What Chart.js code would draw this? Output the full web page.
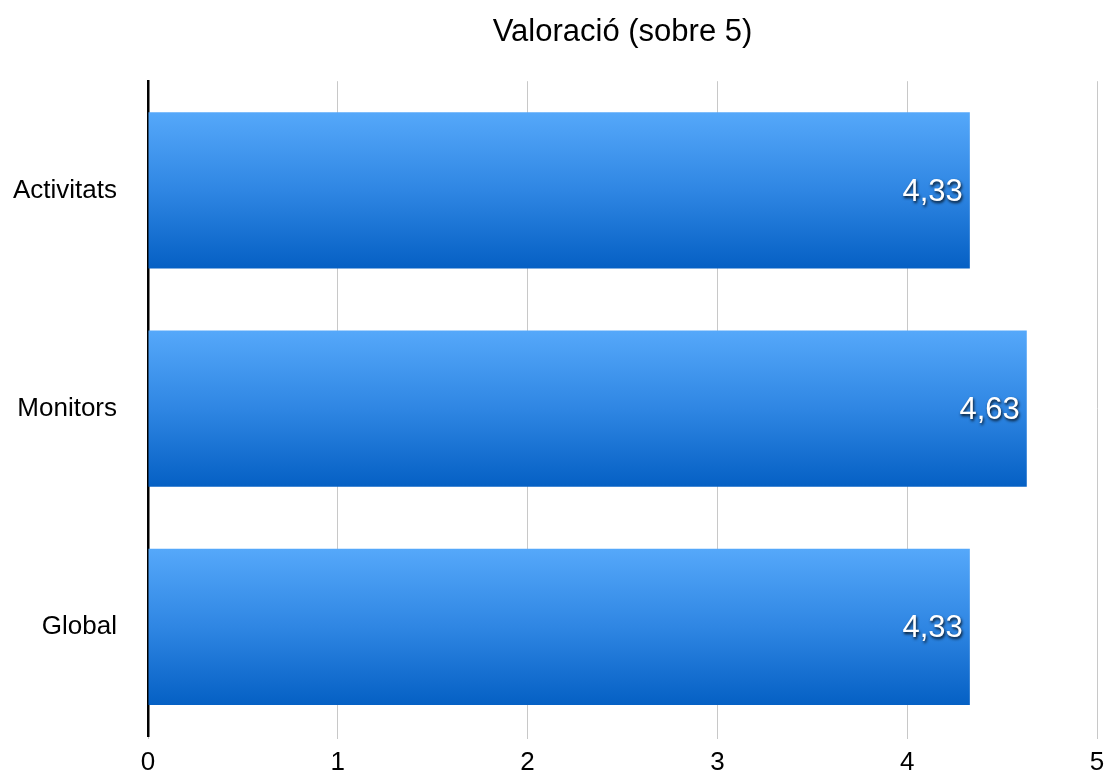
<!DOCTYPE html>
<html>
<head>
<meta charset="utf-8">
<script src="https://cdn.jsdelivr.net/npm/chart.js@4/dist/chart.umd.min.js"></script>
<style>
  html, body { margin:0; padding:0; background:#fff; }
  #wrap { width:1113px; height:777px; }
</style>
</head>
<body>
<div id="wrap"><canvas id="chart" width="1113" height="777"></canvas></div>
<script>
const categories = ['Activitats', 'Monitors', 'Global'];
const values = [4.33, 4.63, 4.33];
const xTicks = [0, 1, 2, 3, 4, 5];

const FONT = '"Liberation Sans", Arial, Helvetica, sans-serif';
const CAT_PCT = 0.9, BAR_PCT = 0.795;

/* ---------- gradient per bar ---------- */
function barGradient(c){
  const chart = c.chart;
  const y = chart.scales.y;
  if (!y || c.dataIndex == null) return '#2d85e0';
  const center = y.getPixelForValue(c.dataIndex);
  const half = (y.height / categories.length) * CAT_PCT * BAR_PCT / 2;
  if (!Number.isFinite(center) || !Number.isFinite(half) || half <= 0) return '#2d85e0';
  const g = chart.ctx.createLinearGradient(0, center - half, 0, center + half);
  g.addColorStop(0, '#55a8fa');
  g.addColorStop(0.5, '#2f86e3');
  g.addColorStop(1, '#0560c4');
  return g;
}

const fmt = v => v.toFixed(2).replace('.', ',');

const valueLabels = {
  id: 'valueLabels',
  afterDatasetsDraw(chart){
    const ctx = chart.ctx;
    const meta = chart.getDatasetMeta(0);
    ctx.save();
    ctx.font = '31px ' + FONT;
    ctx.fillStyle = '#fff';
    ctx.textAlign = 'right';
    ctx.textBaseline = 'middle';
    ctx.shadowColor = 'rgba(0,0,0,0.85)';
    ctx.shadowOffsetX = 1;
    ctx.shadowOffsetY = 2;
    ctx.shadowBlur = 3;
    meta.data.forEach((bar, i) => {
      ctx.fillText(fmt(values[i]), bar.x - 7, bar.y + 2);
    });
    ctx.restore();
  }
};

new Chart(document.getElementById('chart'), {
  type: 'bar',
  data: {
    labels: categories,
    datasets: [{
      data: values,
      backgroundColor: barGradient,
      borderWidth: 0,
      categoryPercentage: CAT_PCT,
      barPercentage: BAR_PCT
    }]
  },
  plugins: [valueLabels],
  options: {
    indexAxis: 'y',
    responsive: false,
    animation: false,
    layout: { padding: { left: 0, right: 16, top: 0, bottom: 0 } },
    plugins: {
      legend: { display: false },
      tooltip: { enabled: false },
      title: {
        display: true,
        fullSize: false,
        text: 'Valoració (sobre 5)',
        color: '#000',
        font: { family: FONT, size: 31, weight: 'normal' },
        padding: { top: 14, bottom: 30 }
      }
    },
    scales: {
      x: {
        min: 0, max: 5,
        afterBuildTicks: s => { s.ticks = xTicks.map(v => ({ value: v })); },
        afterFit: s => { s.height = 41; },
        grid: { color: '#c8c8c8', lineWidth: 1, tickLength: 3 },
        border: { display: false },
        ticks: { color: '#000', font: { family: FONT, size: 26 }, padding: 8 }
      },
      y: {
        afterFit: s => { s.width = 148; s.paddingTop = 0; s.paddingBottom = 0; },
        grid: { display: false, drawTicks: false },
        border: { display: true, color: '#000', width: 2.5 },
        ticks: { color: '#000', font: { family: FONT, size: 26 }, padding: 31 }
      }
    }
  }
});
</script>
</body>
</html>
